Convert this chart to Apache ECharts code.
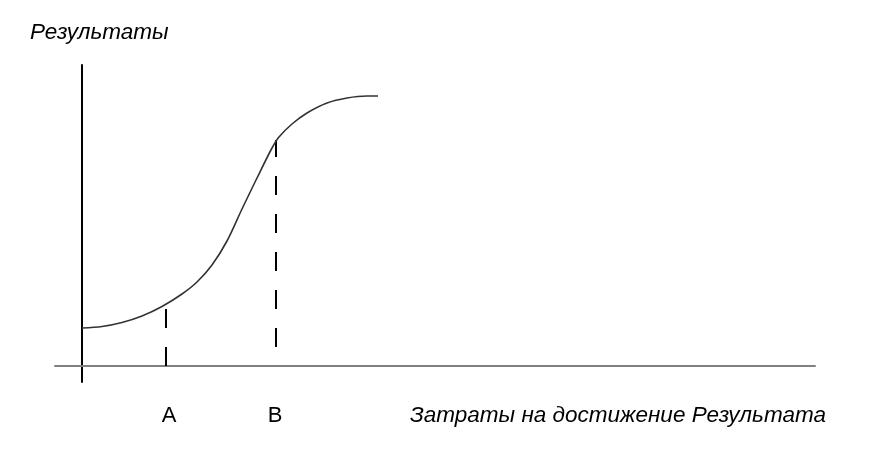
<!DOCTYPE html>
<html>
<head>
<meta charset="utf-8">
<script src="https://cdn.jsdelivr.net/npm/echarts@6/dist/echarts.min.js"></script>
<style>
  html, body { margin: 0; padding: 0; background: #fff; }
  #chart { width: 887px; height: 458px; }
</style>
</head>
<body>
<div id="chart"></div>
<script>
// S-кривая: затраты -> результат (единицы условные)
const curveX = [0, 20, 40, 60, 80, 100, 115, 130, 145, 160, 175, 190, 197, 210, 225, 245, 265, 285, 296]
const curveY = [38, 39.5, 43.5, 50, 59.5, 72, 84, 101, 125, 157, 188, 218, 229, 242, 253, 263, 268, 270, 270]
// точки A и B на оси затрат
const markNames = ['A', 'B']
const markX = [84, 194]
const markY = [63, 226]
const yTitle = 'Результаты'
const xTitle = 'Затраты на достижение Результата'

const chart = echarts.init(document.getElementById('chart'))

const curveData = curveX.map((x, i) => [x, curveY[i]])

const dashSeries = markX.map((x, i) => ({
  name: markNames[i],
  type: 'line',
  data: [[x, 0], [x, markY[i]]],
  symbol: 'none',
  silent: true,
  lineStyle: {
    color: '#000',
    width: 2,
    type: [19, 19],
    dashOffset: i === 0 ? 0 : 19
  },
  z: 3
}))

const option = {
  animation: false,
  backgroundColor: '#fff',
  grid: { left: 55, right: 72, top: 65, bottom: 76 },
  xAxis: {
    type: 'value',
    min: -27,
    max: 733,
    axisLine: { show: true, onZero: true, lineStyle: { color: '#808080', width: 2 } },
    axisTick: { show: false },
    axisLabel: { show: false },
    splitLine: { show: false }
  },
  yAxis: {
    type: 'value',
    min: -16,
    max: 301,
    axisLine: { show: true, onZero: true, lineStyle: { color: '#000', width: 2 } },
    axisTick: { show: false },
    axisLabel: { show: false },
    splitLine: { show: false }
  },
  series: [
    {
      name: 'curve',
      type: 'line',
      data: curveData,
      smooth: 0.3,
      symbol: 'none',
      lineStyle: { color: '#333', width: 1.6 },
      z: 4
    },
    ...dashSeries
  ],
  graphic: [
    {
      type: 'text', x: 30, y: 33,
      style: { text: yTitle, font: 'italic 22.5px "Liberation Sans", Arial', fill: '#000', align: 'left', verticalAlign: 'middle' }
    },
    {
      type: 'text', x: 410, y: 416,
      style: { text: xTitle, font: 'italic 22.5px "Liberation Sans", Arial', fill: '#000', align: 'left', verticalAlign: 'middle' }
    },
    {
      type: 'text', x: 169, y: 416,
      style: { text: markNames[0], font: '22px "Liberation Sans", Arial', fill: '#000', align: 'center', verticalAlign: 'middle' }
    },
    {
      type: 'text', x: 275, y: 416,
      style: { text: markNames[1], font: '22px "Liberation Sans", Arial', fill: '#000', align: 'center', verticalAlign: 'middle' }
    }
  ]
}

chart.setOption(option)
</script>
</body>
</html>
